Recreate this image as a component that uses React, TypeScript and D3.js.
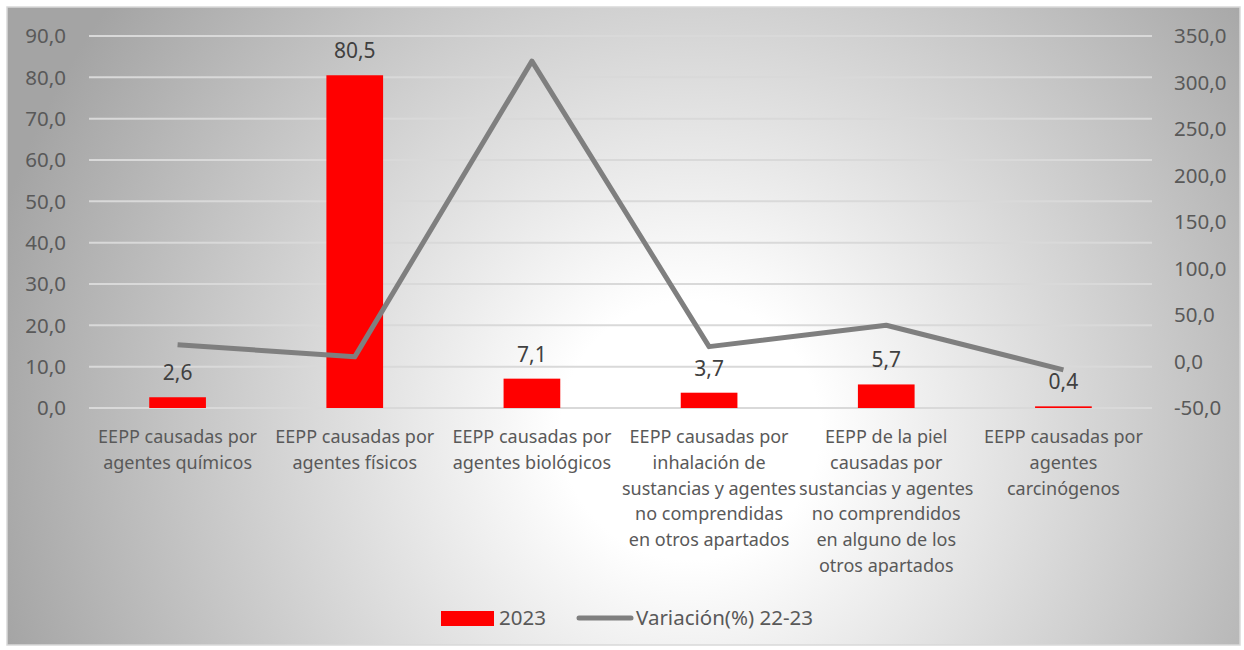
import React from 'react';
import * as d3 from 'd3';

const categories = [
  'EEPP  causadas por\nagentes químicos',
  'EEPP causadas por\nagentes físicos',
  'EEPP causadas por\nagentes biológicos',
  'EEPP causadas por\ninhalación de\nsustancias y agentes\nno comprendidas\nen otros apartados',
  'EEPP de la piel\ncausadas por\nsustancias y agentes\nno comprendidos\nen alguno de los\notros apartados',
  'EEPP causadas por\nagentes\ncarcinógenos',
];
const values2023 = [2.6, 80.5, 7.1, 3.7, 5.7, 0.4];
const variacion = [18, 5, 323, 16, 39, -9];
const leftTicks = [0, 10, 20, 30, 40, 50, 60, 70, 80, 90];
const rightTicks = [-50, 0, 50, 100, 150, 200, 250, 300, 350];

const FONT = "'Noto Sans', 'Open Sans', sans-serif";
const fmt = (v: number) => v.toFixed(1).replace('.', ',');

const App: React.FC = () => {
  const width = 1244;
  const height = 650;
  const plot = { left: 89, right: 1152, top: 36, bottom: 408 };

  const x = d3.scaleBand<string>()
    .domain(categories)
    .range([plot.left, plot.right])
    .paddingInner(0.68)
    .paddingOuter(0.34);
  const xCenter = (c: string) => (x(c) || 0) + x.bandwidth() / 2;

  const yLeft = d3.scaleLinear().domain([0, 90]).range([plot.bottom, plot.top]);
  const yRight = d3.scaleLinear().domain([-50, 350]).range([plot.bottom, plot.top]);

  const line = d3.line<number>()
    .x((_, i) => xCenter(categories[i]))
    .y(d => yRight(d));

  return (
    <svg width={width} height={height} style={{ position: 'absolute', left: 0, top: 0 }}>
      <defs>
        <radialGradient id="bg" gradientUnits="userSpaceOnUse" cx={690} cy={430} r={720}>
          <stop offset="0" stopColor="#ffffff" />
          <stop offset="0.18" stopColor="#ffffff" />
          <stop offset="1" stopColor="#a4a4a4" />
        </radialGradient>
      </defs>
      <rect x={0} y={0} width={width} height={height} fill="#ffffff" />
      <rect x={7} y={7} width={1233} height={638} fill="url(#bg)" stroke="#d9d9d9" strokeWidth={1.5} />

      {/* gridlines */}
      {leftTicks.map(t => (
        <line key={t} x1={plot.left} x2={plot.right} y1={yLeft(t)} y2={yLeft(t)}
          stroke="#d9d9d9" strokeWidth={2} />
      ))}

      {/* left axis */}
      {leftTicks.map(t => (
        <text key={t} x={66} y={yLeft(t)} dy="0.35em" textAnchor="end"
          fontFamily={FONT} fontSize={20.5} fill="#595959">{fmt(t)}</text>
      ))}

      {/* right axis */}
      {rightTicks.map(t => (
        <text key={t} x={1174} y={yRight(t)} dy="0.35em" textAnchor="start"
          fontFamily={FONT} fontSize={20.5} fill="#595959">{fmt(t)}</text>
      ))}

      {/* bars */}
      {categories.map((c, i) => (
        <rect key={c} x={x(c)} y={yLeft(values2023[i])} width={x.bandwidth()}
          height={plot.bottom - yLeft(values2023[i])} fill="#ff0000" />
      ))}

      {/* line */}
      <path d={line(variacion) || ''} fill="none" stroke="#7f7f7f" strokeWidth={5} strokeLinejoin="round" />

      {/* data labels */}
      {categories.map((c, i) => (
        <text key={c} x={xCenter(c)} y={yLeft(values2023[i]) - 17} textAnchor="middle"
          fontFamily={FONT} fontSize={21} fill="#404040">{fmt(values2023[i])}</text>
      ))}

      {/* category labels */}
      {categories.map(c => (
        <text key={c} textAnchor="middle" fontFamily={FONT} fontSize={18} fill="#595959">
          {c.split('\n').map((ln, j) => (
            <tspan key={j} x={xCenter(c)} y={443 + j * 25.8}>{ln}</tspan>
          ))}
        </text>
      ))}

      {/* legend */}
      <g fontFamily={FONT} fontSize={20.5} fill="#595959">
        <rect x={441} y={611} width={53} height={15} fill="#ff0000" />
        <text x={499} y={618} dy="0.35em">2023</text>
        <line x1={579} x2={631} y1={618} y2={618} stroke="#7f7f7f" strokeWidth={5} strokeLinecap="round" />
        <text x={636} y={618} dy="0.35em">Variación(%) 22-23</text>
      </g>
    </svg>
  );
};

export default App;
